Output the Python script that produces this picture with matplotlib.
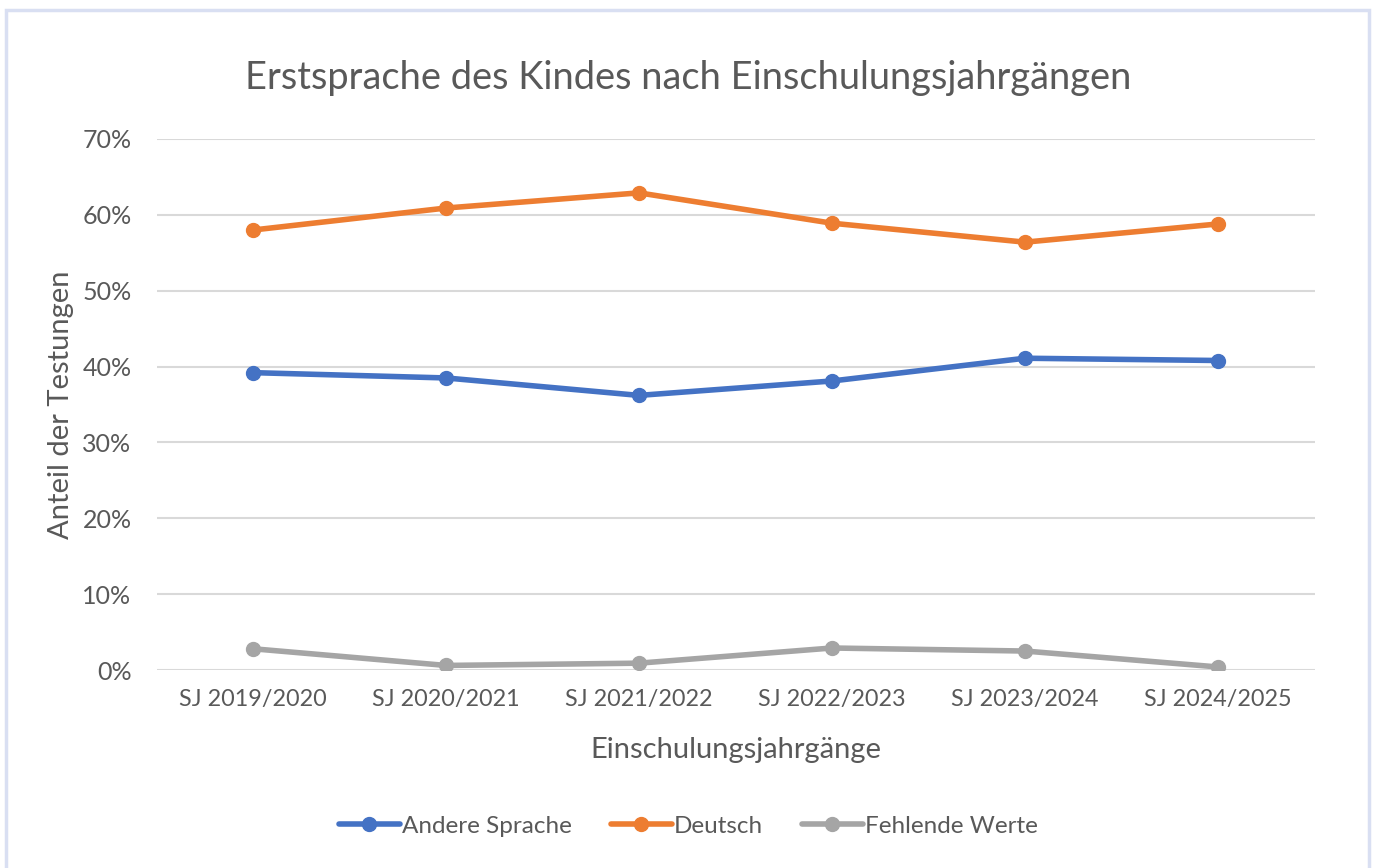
import matplotlib.pyplot as plt
from matplotlib.patches import Rectangle
from matplotlib.ticker import PercentFormatter

plt.rcParams['font.family'] = ['Lato', 'DejaVu Sans']

years = ['SJ 2019/2020', 'SJ 2020/2021', 'SJ 2021/2022',
         'SJ 2022/2023', 'SJ 2023/2024', 'SJ 2024/2025']
andere = [39.2, 38.5, 36.2, 38.1, 41.1, 40.8]
deutsch = [58.0, 60.9, 62.9, 58.9, 56.4, 58.8]
fehlend = [2.8, 0.6, 0.9, 2.9, 2.5, 0.4]

txt = '#595959'
fig = plt.figure(figsize=(13.77, 8.68), dpi=100, facecolor='white')
fig.patches.append(Rectangle((6/1377, -0.01), 1363/1377, 1 - 10/868 + 0.01,
                             transform=fig.transFigure, fill=False,
                             edgecolor='#D9DFF2', linewidth=2.5))
ax = fig.add_axes([156.5/1377, 1-670/868, 1158/1377, 531/868])

x = range(len(years))
series = [('Andere Sprache', andere, '#4472C4'),
          ('Deutsch', deutsch, '#ED7D31'),
          ('Fehlende Werte', fehlend, '#A5A5A5')]
for name, vals, col in series:
    ax.plot(x, vals, color=col, lw=4, marker='o', ms=10, label=name,
            solid_capstyle='round', zorder=3)

ax.set_xlim(-0.5, len(years) - 0.5)
ax.set_ylim(0, 70)
ax.set_yticks(range(0, 71, 10))
ax.yaxis.set_major_formatter(PercentFormatter(decimals=0))
ax.set_xticks(list(x))
ax.set_xticklabels(years)
ax.grid(axis='y', color='#D9D9D9', lw=1.5)
ax.set_axisbelow(True)
for s in ax.spines.values():
    s.set_visible(False)
ax.tick_params(axis='x', length=0, labelsize=16.8, colors=txt, pad=14)
ax.tick_params(axis='y', length=0, labelsize=18, colors=txt, pad=18)

ax.set_xlabel('Einschulungsjahrgänge', fontsize=21, color=txt, labelpad=19)
ax.set_ylabel('Anteil der Testungen', fontsize=21, color=txt, labelpad=6)
fig.text(0.5, 1-78/868, 'Erstsprache des Kindes nach Einschulungsjahrgängen',
         ha='center', va='center', fontsize=27.4, color=txt)

fig.legend(loc='center', bbox_to_anchor=(0.5, 1-826/868), ncol=3,
           frameon=False, fontsize=17.5, labelcolor=txt, handlelength=2.5,
           handletextpad=0.1, columnspacing=1.6)

fig.savefig('out.png', dpi=100)
